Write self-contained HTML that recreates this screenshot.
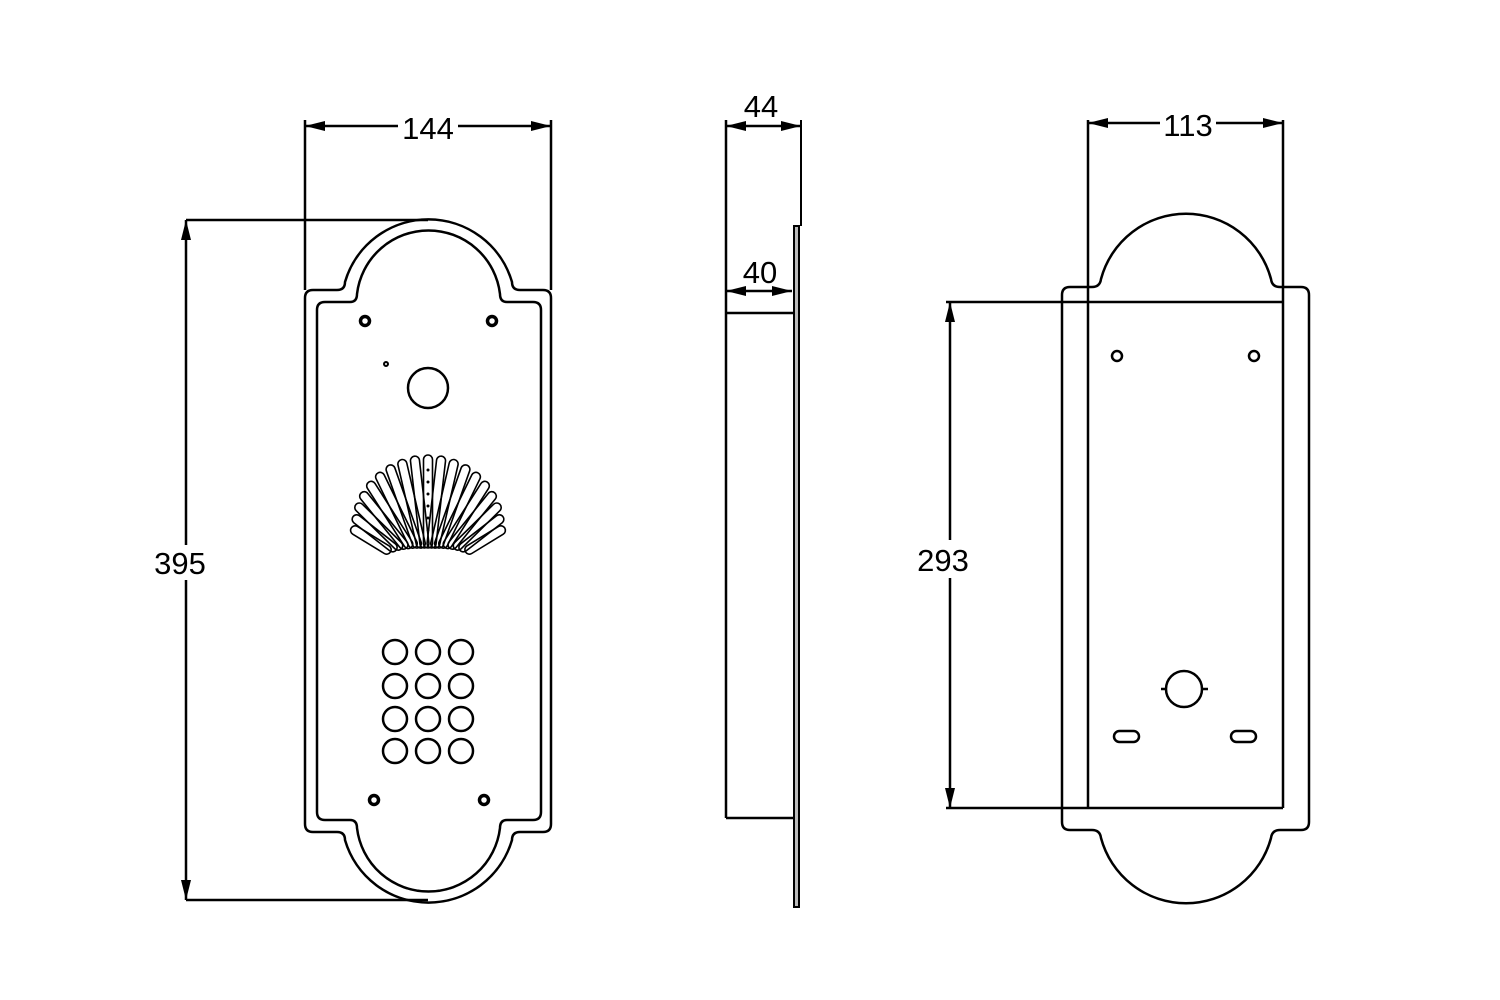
<!DOCTYPE html>
<html><head><meta charset="utf-8"><style>
html,body{margin:0;padding:0;background:#fff;}
svg{display:block}
text{font-family:"Liberation Sans",sans-serif;font-size:31px;fill:#000;text-anchor:middle}
</style></head><body>
<svg width="1500" height="1000" viewBox="0 0 1500 1000" xmlns="http://www.w3.org/2000/svg">
<defs>
<marker id="ar" viewBox="0 0 20 10" refX="20" refY="5" markerWidth="20" markerHeight="10" markerUnits="userSpaceOnUse" orient="auto-start-reverse">
<path d="M0,0 L20,5 L0,10 Z" fill="#000"/></marker>
</defs>
<g fill="none" stroke="#000" stroke-width="2.5">
<!-- FRONT VIEW -->
<path d="M305,298 Q305,290 313,290 L337,290 Q345,290 345,282 A87,87 0 0 1 512,282 Q512,290 520,290 L543,290 Q551,290 551,298 L551,824 Q551,832 543,832 L520,832 Q512,832 512,840 A87,87 0 0 1 345,840 Q345,832 337,832 L313,832 Q305,832 305,824 Z"/>
<path d="M317,310 Q317,302 325,302 L350,302 Q357,302 357,294 A72,72 0 0 1 500,294 Q500,302 507,302 L533,302 Q541,302 541,310 L541,812 Q541,820 533,820 L507,820 Q500,820 500,828 A72,72 0 0 1 357,828 Q357,820 350,820 L325,820 Q317,820 317,812 Z"/>
<!-- dims front -->
<line x1="305" y1="120" x2="305" y2="290"/>
<line x1="551" y1="120" x2="551" y2="290"/>
<line x1="305" y1="126" x2="398" y2="126" marker-start="url(#ar)"/>
<line x1="458" y1="126" x2="551" y2="126" marker-end="url(#ar)"/>
<line x1="186" y1="220" x2="186" y2="545" marker-start="url(#ar)"/>
<line x1="186" y1="580" x2="186" y2="900" marker-end="url(#ar)"/>
<line x1="186" y1="220" x2="428" y2="220"/>
<line x1="186" y1="900" x2="428" y2="900"/>
<!-- holes -->
<circle cx="365" cy="321" r="4.5" stroke-width="3.5"/>
<circle cx="492" cy="321" r="4.5" stroke-width="3.5"/>
<circle cx="374" cy="800" r="4.5" stroke-width="3.5"/>
<circle cx="484" cy="800" r="4.5" stroke-width="3.5"/>
<circle cx="386" cy="364" r="2" stroke-width="2"/>
<circle cx="428" cy="388" r="20"/>
<g>
<circle cx="395" cy="652" r="12"/><circle cx="428" cy="652" r="12"/><circle cx="461" cy="652" r="12"/>
<circle cx="395" cy="686" r="12"/><circle cx="428" cy="686" r="12"/><circle cx="461" cy="686" r="12"/>
<circle cx="395" cy="719" r="12"/><circle cx="428" cy="719" r="12"/><circle cx="461" cy="719" r="12"/>
<circle cx="395" cy="751" r="12"/><circle cx="428" cy="751" r="12"/><circle cx="461" cy="751" r="12"/>
</g>
<!-- fan -->
<g stroke-width="1.6">
<rect x="-4.5" y="-120" width="9" height="93" rx="4.5" transform="translate(428,575) rotate(0)"/>
<rect x="-4.5" y="-119.6" width="9" height="92.4" rx="4.5" transform="translate(428,575) rotate(6.5)"/>
<rect x="-4.5" y="-119.6" width="9" height="92.4" rx="4.5" transform="translate(428,575) rotate(-6.5)"/>
<rect x="-4.5" y="-118.4" width="9" height="90.6" rx="4.5" transform="translate(428,575) rotate(13)"/>
<rect x="-4.5" y="-118.4" width="9" height="90.6" rx="4.5" transform="translate(428,575) rotate(-13)"/>
<rect x="-4.5" y="-116.5" width="9" height="87.6" rx="4.5" transform="translate(428,575) rotate(19.5)"/>
<rect x="-4.5" y="-116.5" width="9" height="87.6" rx="4.5" transform="translate(428,575) rotate(-19.5)"/>
<rect x="-4.5" y="-113.7" width="9" height="83.3" rx="4.5" transform="translate(428,575) rotate(26)"/>
<rect x="-4.5" y="-113.7" width="9" height="83.3" rx="4.5" transform="translate(428,575) rotate(-26)"/>
<rect x="-4.5" y="-110.2" width="9" height="78" rx="4.5" transform="translate(428,575) rotate(32.5)"/>
<rect x="-4.5" y="-110.2" width="9" height="78" rx="4.5" transform="translate(428,575) rotate(-32.5)"/>
<rect x="-4.5" y="-105.9" width="9" height="71.4" rx="4.5" transform="translate(428,575) rotate(39)"/>
<rect x="-4.5" y="-105.9" width="9" height="71.4" rx="4.5" transform="translate(428,575) rotate(-39)"/>
<rect x="-4.5" y="-100.8" width="9" height="63.5" rx="4.5" transform="translate(428,575) rotate(45.5)"/>
<rect x="-4.5" y="-100.8" width="9" height="63.5" rx="4.5" transform="translate(428,575) rotate(-45.5)"/>
<rect x="-4.5" y="-95" width="9" height="54.6" rx="4.5" transform="translate(428,575) rotate(52)"/>
<rect x="-4.5" y="-95" width="9" height="54.6" rx="4.5" transform="translate(428,575) rotate(-52)"/>
<rect x="-4.5" y="-90" width="9" height="46" rx="4.5" transform="translate(428,575) rotate(58.5)"/>
<rect x="-4.5" y="-90" width="9" height="46" rx="4.5" transform="translate(428,575) rotate(-58.5)"/>
</g>
<g fill="#000" stroke="none">
<circle cx="428" cy="470" r="1.5"/><circle cx="428" cy="482" r="1.5"/><circle cx="428" cy="494" r="1.5"/><circle cx="428" cy="506" r="1.5"/><circle cx="428" cy="518" r="1.5"/><circle cx="428" cy="530" r="1.5"/>
</g>
<!-- SIDE VIEW -->
<line x1="726" y1="120" x2="726" y2="818"/>
<line x1="726" y1="313" x2="793" y2="313"/>
<line x1="726" y1="818" x2="793" y2="818"/>
<rect x="794" y="226" width="5" height="681" fill="#bbb" stroke-width="2"/>
<line x1="801" y1="120" x2="801" y2="226" stroke-width="2"/>
<line x1="726" y1="126" x2="801" y2="126" marker-start="url(#ar)" marker-end="url(#ar)"/>
<line x1="726" y1="291" x2="792" y2="291" marker-start="url(#ar)" marker-end="url(#ar)"/>
<!-- BACK VIEW -->
<path d="M1062,295 Q1062,287 1070,287 L1092,287 Q1100,287 1101,279 A88,88 0 0 1 1271,279 Q1272,287 1280,287 L1301,287 Q1309,287 1309,295 L1309,822 Q1309,830 1301,830 L1280,830 Q1272,830 1271,838 A88,88 0 0 1 1101,838 Q1100,830 1092,830 L1070,830 Q1062,830 1062,822 Z"/>
<line x1="1088" y1="120" x2="1088" y2="808"/>
<line x1="1283" y1="120" x2="1283" y2="808"/>
<line x1="946" y1="302" x2="1283" y2="302"/>
<line x1="946" y1="808" x2="1283" y2="808"/>
<line x1="1088" y1="123" x2="1160" y2="123" marker-start="url(#ar)"/>
<line x1="1216" y1="123" x2="1283" y2="123" marker-end="url(#ar)"/>
<line x1="950" y1="302" x2="950" y2="540" marker-start="url(#ar)"/>
<line x1="950" y1="578" x2="950" y2="808" marker-end="url(#ar)"/>
<circle cx="1117" cy="356" r="5"/>
<circle cx="1254" cy="356" r="5"/>
<circle cx="1184" cy="689" r="18"/>
<line x1="1161" y1="689" x2="1166" y2="689"/>
<line x1="1202" y1="689" x2="1208" y2="689"/>
<rect x="1114" y="731" width="25" height="11" rx="5.5"/>
<rect x="1231" y="731" width="25" height="11" rx="5.5"/>
</g>
<text x="428" y="139">144</text>
<text x="180" y="574">395</text>
<text x="761" y="117">44</text>
<text x="760" y="283">40</text>
<text x="1188" y="136">113</text>
<text x="943" y="571">293</text>
</svg>
</body></html>
